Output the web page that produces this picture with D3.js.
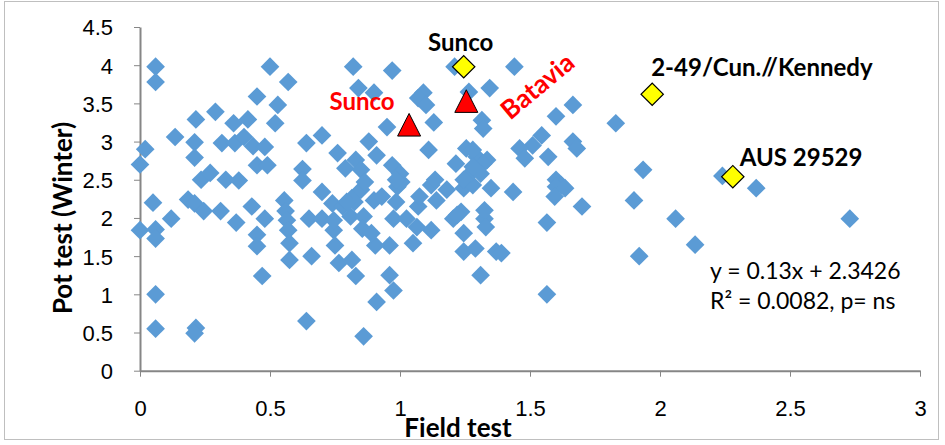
<!DOCTYPE html>
<html>
<head>
<meta charset="utf-8">
<script src="https://cdn.jsdelivr.net/npm/d3@7"></script>
<style>
  body { margin: 0; background: #fff; }
  svg { display: block; font-family: Lato, "Open Sans", sans-serif; }
</style>
</head>
<body>
<div id="chart"></div>
<script>
// Field test (x) and pot test (y) scores of the lines
const fieldTest = [
  0.06, 0.06, 0.135, 0.02, 0.00, 0.215, 0.29, 0.21, 0.21, 0.235,
  0.27, 0.33, 0.38, 0.45, 0.50, 0.57, 0.53, 0.52, 0.36, 0.415,
  0.315, 0.365, 0.40, 0.435, 0.48, 0.45, 0.49, 0.64, 0.625, 0.625,
  0.70, 0.70, 0.05, 0.185, 0.21, 0.245, 0.31, 0.43, 0.12, 0.00,
  0.06, 0.06, 0.37, 0.48, 0.555, 0.56, 0.565, 0.57, 0.575, 0.575,
  0.45, 0.45, 0.47, 0.65, 0.66, 0.06, 0.06, 0.215, 0.21, 0.64,
  0.82, 0.97, 0.84, 0.90, 1.09, 1.07, 1.10, 0.95, 1.13, 0.76,
  0.83, 0.88, 0.91, 0.79, 0.85, 0.97, 1.00, 1.11, 1.215, 1.255,
  1.295, 1.335, 1.265, 1.345, 1.315, 1.32, 1.21, 0.70, 0.74, 0.78,
  0.815, 0.85, 0.865, 0.81, 0.86, 0.90, 0.93, 0.99, 0.975, 1.025,
  1.07, 1.12, 1.065, 1.05, 0.96, 0.905, 0.855, 0.89, 0.745, 0.75,
  0.765, 0.815, 0.83, 0.96, 0.975, 0.91, 0.86, 1.14, 1.12, 1.205,
  1.235, 1.245, 1.245, 1.29, 1.325, 1.325, 1.31, 1.37, 1.245, 1.35,
  1.005, 1.28, 1.18, 1.44, 1.665, 1.60, 1.83, 1.545, 1.51, 1.46,
  1.57, 1.665, 1.68, 1.48, 1.935, 1.60, 1.62, 1.435, 1.90, 1.32,
  1.60, 1.635, 1.595, 1.70, 2.06, 1.33, 1.565, 1.39, 1.92, 1.565,
  2.24, 2.37, 2.73, 2.135, 0.825, 0.795, 0.985, 0.985, 1.075, 1.28,
  1.27, 1.31, 0.745, 1.28, 1.245, 1.135, 1.22
];
const potTest = [
  3.98, 3.78, 3.06, 2.90, 2.70, 3.29, 3.39, 2.99, 2.79, 2.50,
  2.59, 2.50, 2.49, 3.59, 3.98, 3.78, 3.48, 3.24, 3.24, 3.29,
  2.98, 2.98, 3.06, 2.94, 2.93, 2.69, 2.69, 2.98, 2.64, 2.49,
  3.08, 2.34, 2.20, 2.24, 2.19, 2.09, 2.09, 2.15, 1.99, 1.84,
  1.85, 1.73, 1.94, 1.99, 2.23, 2.09, 1.97, 1.84, 1.67, 1.45,
  1.78, 1.63, 1.24, 1.99, 1.50, 1.00, 0.55, 0.56, 0.49, 0.65,
  3.98, 3.93, 3.70, 3.64, 3.64, 3.57, 3.48, 3.19, 3.25, 2.85,
  2.76, 3.00, 2.82, 2.65, 2.63, 2.69, 2.58, 2.89, 2.71, 2.91,
  2.80, 2.76, 3.65, 3.70, 3.28, 3.17, 3.98, 1.99, 2.19, 2.15,
  2.26, 2.37, 2.47, 2.02, 2.02, 2.23, 2.28, 2.41, 1.99, 1.99,
  2.15, 1.84, 1.88, 1.67, 1.64, 1.64, 1.86, 1.80, 1.84, 1.64,
  1.41, 1.45, 1.24, 1.25, 1.05, 0.90, 0.45, 2.23, 2.43, 1.99,
  2.08, 1.80, 1.56, 1.60, 1.99, 2.10, 1.25, 1.56, 2.39, 2.39,
  2.47, 2.43, 2.37, 3.98, 3.48, 3.33, 3.24, 3.08, 2.95, 2.91,
  2.80, 3.00, 2.91, 2.78, 2.63, 2.50, 2.43, 2.34, 2.23, 2.71,
  2.41, 2.39, 2.28, 2.15, 1.99, 1.88, 1.94, 1.54, 1.50, 1.00,
  2.55, 2.39, 1.99, 1.65, 2.21, 2.21, 2.50, 2.21, 2.28, 2.89,
  2.58, 2.58, 1.97, 2.67, 2.50, 2.50, 2.04
];

// highlighted lines (yellow diamonds)
const checkNames = ["Sunco", "2-49/Cun.//Kennedy", "AUS 29529"];
const checkField = [1.245, 1.97, 2.28];
const checkPot = [3.98, 3.62, 2.54];

// highlighted lines (red triangles)
const redNames = ["Sunco", "Batavia"];
const redField = [1.035, 1.255];
const redPot = [3.22, 3.53];

const xTicks = [0, 0.5, 1, 1.5, 2, 2.5, 3];
const yTicks = [0, 0.5, 1, 1.5, 2, 2.5, 3, 3.5, 4, 4.5];

const W = 945, H = 445;
const margin = { top: 27, right: 25, bottom: 74.3, left: 140 };
const width = W - margin.left - margin.right,
      height = H - margin.top - margin.bottom;

const svg = d3.select("#chart")
  .append("svg")
    .attr("width", W)
    .attr("height", H);

// outer chart border
svg.append("rect")
  .attr("x", 4.5).attr("y", 1.5)
  .attr("width", 934).attr("height", 438)
  .attr("fill", "none")
  .attr("stroke", "#bfbfbf")
  .attr("stroke-width", 1);

const g = svg.append("g")
  .attr("transform", `translate(${margin.left},${margin.top})`);

const x = d3.scaleLinear().domain([0, 3]).range([0, width]);
const y = d3.scaleLinear().domain([0, 4.5]).range([height, 0]);

// X axis
const xAxis = g.append("g")
  .attr("transform", `translate(0,${height})`)
  .call(d3.axisBottom(x).tickValues(xTicks).tickSize(6).tickSizeOuter(0)
    .tickFormat(d3.format("")));
xAxis.select(".domain").attr("stroke", "#868686").attr("stroke-width", 2);
xAxis.selectAll(".tick line").attr("stroke", "#868686");
xAxis.selectAll("text")
  .attr("dy", null)
  .attr("y", 45)
  .attr("fill", "#000")
  .style("font-size", "22px");

// Y axis
const yAxis = g.append("g")
  .call(d3.axisLeft(y).tickValues(yTicks).tickSize(6).tickSizeOuter(0)
    .tickFormat(d3.format("")));
yAxis.select(".domain").attr("stroke", "#868686").attr("stroke-width", 2);
yAxis.selectAll(".tick line").attr("stroke", "#868686");
yAxis.selectAll("text")
  .attr("x", -27)
  .attr("dy", "0.36em")
  .attr("fill", "#000")
  .style("font-size", "22px");

// axis titles
svg.append("text")
  .attr("x", 458)
  .attr("y", 437)
  .attr("text-anchor", "middle")
  .style("font-size", "26px")
  .style("font-weight", "bold")
  .text("Field test");

svg.append("text")
  .attr("transform", "translate(72,218) rotate(-90)")
  .attr("text-anchor", "middle")
  .style("font-size", "26px")
  .style("font-weight", "bold")
  .text("Pot test (Winter)");

// all lines
const pts = fieldTest.map((f, i) => ({ f: f, p: potTest[i] }));
g.selectAll(".dot")
  .data(pts)
  .enter().append("path")
    .attr("class", "dot")
    .attr("d", d3.symbol(d3.symbolSquare, 175))
    .attr("transform", d => `translate(${x(d.f)},${y(d.p)}) rotate(45)`)
    .attr("fill", "#5b9bd5");

// red triangles
const tri = "M0,-11.3L11.5,11.3L-11.5,11.3Z";
g.selectAll(".tri")
  .data(redNames)
  .enter().append("path")
    .attr("class", "tri")
    .attr("d", tri)
    .attr("transform", (d, i) => `translate(${x(redField[i])},${y(redPot[i])})`)
    .attr("fill", "#ff0000")
    .attr("stroke", "#000")
    .attr("stroke-width", 1);

// yellow diamonds
g.selectAll(".check")
  .data(checkNames)
  .enter().append("path")
    .attr("class", "check")
    .attr("d", d3.symbol(d3.symbolSquare, 250))
    .attr("transform", (d, i) => `translate(${x(checkField[i])},${y(checkPot[i])}) rotate(45)`)
    .attr("fill", "#ffff00")
    .attr("stroke", "#000")
    .attr("stroke-width", 1.2);

// labels for highlighted lines
const checkOffset = [[-3, -16, "middle"], [-1, -18, "start"], [7, -11, "start"]];
g.selectAll(".checkLabel")
  .data(checkNames)
  .enter().append("text")
    .attr("class", "checkLabel")
    .attr("x", (d, i) => x(checkField[i]) + checkOffset[i][0])
    .attr("y", (d, i) => y(checkPot[i]) + checkOffset[i][1])
    .attr("text-anchor", (d, i) => checkOffset[i][2])
    .style("font-size", "24px")
    .style("font-weight", "bold")
    .attr("fill", "#000")
    .text(d => d);

g.append("text")
  .attr("x", x(redField[0]) - 47)
  .attr("y", y(redPot[0]) - 15)
  .attr("text-anchor", "middle")
  .style("font-size", "24px")
  .style("font-weight", "bold")
  .attr("fill", "#ff0000")
  .text(redNames[0]);

g.append("text")
  .attr("transform", `translate(${x(redField[1]) + 77},${y(redPot[1]) - 8}) rotate(-40)`)
  .attr("text-anchor", "middle")
  .style("font-size", "26px")
  .style("font-weight", "bold")
  .attr("fill", "#ff0000")
  .text(redNames[1]);

// regression equation
const eqLines = ["y = 0.13x + 2.3426", "R² = 0.0082, p= ns"];
svg.selectAll(".eq")
  .data(eqLines)
  .enter().append("text")
    .attr("class", "eq")
    .attr("x", 710)
    .attr("y", (d, i) => 279 + i * 30)
    .style("font-size", "23px")
    .attr("fill", "#000")
    .text(d => d);
</script>
</body>
</html>
